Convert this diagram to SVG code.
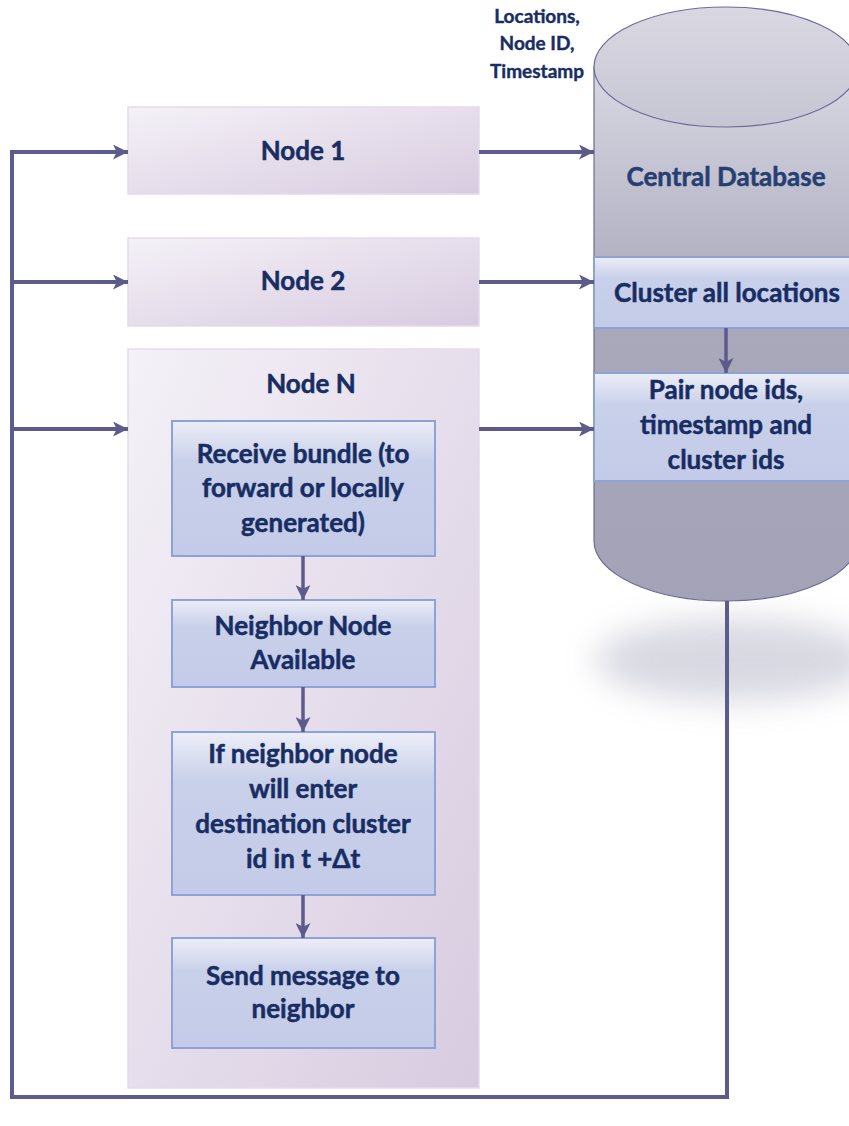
<svg xmlns="http://www.w3.org/2000/svg" width="849" height="1126" viewBox="0 0 849 1126">
  <style>
    .lbl { font-family: Lato, "Open Sans", "Liberation Sans", sans-serif; font-weight: 700; fill: #172d63; stroke: #172d63; stroke-width: 0.5; text-anchor: middle; }
    .big { font-size: 26px; }
    .small { font-size: 19px; stroke-width: 0.4; }
    .node { fill: url(#nodeFill); stroke: #e2dbea; stroke-width: 1.5; }
    .step { fill: url(#stepFill); stroke: #8ba3d9; stroke-width: 2; }
    .wire { fill: none; stroke: #5d5a8c; stroke-width: 4; }
    .arrow { fill: none; stroke: #5d5a8c; stroke-width: 4; marker-end: url(#head); }
    .thin { fill: none; stroke: #5d5a8c; stroke-width: 3.5; marker-end: url(#head); }
  </style>
  <defs>
    <linearGradient id="nodeFill" x1="0" y1="0" x2="1" y2="1">
      <stop offset="0" stop-color="#f4f1f7"/>
      <stop offset="1" stop-color="#d8cbe0"/>
    </linearGradient>
    <linearGradient id="stepFill" x1="0" y1="0" x2="0" y2="1">
      <stop offset="0" stop-color="#eceef7"/>
      <stop offset="0.3" stop-color="#c9d0ea"/>
      <stop offset="1" stop-color="#c4cbe8"/>
    </linearGradient>
    <linearGradient id="bodyFill" gradientUnits="userSpaceOnUse" x1="0" y1="67" x2="0" y2="601">
      <stop offset="0" stop-color="#d8d7e2"/>
      <stop offset="0.45" stop-color="#aaa9bc"/>
      <stop offset="1" stop-color="#a3a2b6"/>
    </linearGradient>
    <linearGradient id="capFill" x1="0" y1="0" x2="0" y2="1">
      <stop offset="0" stop-color="#d9d8e2"/>
      <stop offset="1" stop-color="#c6c5d3"/>
    </linearGradient>
    <filter id="soft" x="-50%" y="-100%" width="200%" height="300%">
      <feGaussianBlur stdDeviation="16"/>
    </filter>
    <marker id="head" viewBox="0 0 10 10" refX="10" refY="5" markerUnits="userSpaceOnUse" markerWidth="17" markerHeight="15" orient="auto">
      <path d="M0,0 L10,5 L0,10 L2.5,5 Z" fill="#5d5a8c"/>
    </marker>
  </defs>

  <rect width="849" height="1126" fill="#ffffff"/>

  <!-- central database cylinder with its soft floor shadow -->
  <g id="central-database">
    <ellipse cx="735" cy="660" rx="140" ry="42" fill="#a4a4bc" opacity="0.42" filter="url(#soft)"/>
    <path d="M594,67 L594,541 A132,60 0 0 0 858,541 L858,67 Z" fill="url(#bodyFill)" stroke="#6c6b9b" stroke-width="1.2"/>
    <ellipse cx="726" cy="67" rx="132" ry="60" fill="url(#capFill)" stroke="#6c6b9b" stroke-width="1.2"/>
    <text class="lbl big" x="726" y="186" style="fill:#263f72;stroke:#263f72">Central Database</text>
  </g>

  <g id="cluster-step">
    <rect class="step" x="594" y="257" width="262" height="71"/>
    <text class="lbl big" x="727" y="302">Cluster all locations</text>
  </g>

  <g id="pair-step">
    <rect class="step" x="594" y="373" width="262" height="108"/>
    <text class="lbl big" x="726" y="399">Pair node ids,</text>
    <text class="lbl big" x="726" y="434">timestamp and</text>
    <text class="lbl big" x="726" y="469">cluster ids</text>
  </g>

  <g id="upload-label">
    <text class="lbl small" x="537" y="23">Locations,</text>
    <text class="lbl small" x="537" y="50">Node ID,</text>
    <text class="lbl small" x="537" y="78">Timestamp</text>
  </g>

  <!-- nodes -->
  <g id="node-1">
    <rect class="node" x="128" y="107" width="351" height="87"/>
    <text class="lbl big" x="303" y="160">Node 1</text>
  </g>

  <g id="node-2">
    <rect class="node" x="128" y="238" width="351" height="88"/>
    <text class="lbl big" x="303" y="290">Node 2</text>
  </g>

  <g id="node-n">
    <rect class="node" x="128" y="349" width="351" height="739"/>
    <text class="lbl big" x="311" y="393">Node N</text>
  </g>

  <g id="receive-bundle">
    <rect class="step" x="172" y="421" width="263" height="135"/>
    <text class="lbl big" x="303" y="463">Receive bundle (to</text>
    <text class="lbl big" x="303" y="497">forward or locally</text>
    <text class="lbl big" x="303" y="532">generated)</text>
  </g>

  <g id="neighbor-available">
    <rect class="step" x="172" y="600" width="263" height="87"/>
    <text class="lbl big" x="303" y="635">Neighbor Node</text>
    <text class="lbl big" x="303" y="669">Available</text>
  </g>

  <g id="neighbor-check">
    <rect class="step" x="172" y="732" width="263" height="163"/>
    <text class="lbl big" x="303" y="763">If neighbor node</text>
    <text class="lbl big" x="303" y="798">will enter</text>
    <text class="lbl big" x="303" y="833">destination cluster</text>
    <text class="lbl big" x="303" y="868">id in t +Δt</text>
  </g>

  <g id="send-message">
    <rect class="step" x="172" y="938" width="263" height="110"/>
    <text class="lbl big" x="303" y="985">Send message to</text>
    <text class="lbl big" x="303" y="1018">neighbor</text>
  </g>

  <!-- connectors -->
  <g id="connectors">
    <path class="wire" d="M727,601 L727,1097 L12,1097 L12,152"/>
    <path class="arrow" d="M10,152 L128,152"/>
    <path class="arrow" d="M12,282 L128,282"/>
    <path class="arrow" d="M12,429 L128,429"/>
    <path class="arrow" d="M479,152 L594,152"/>
    <path class="arrow" d="M479,282 L594,282"/>
    <path class="arrow" d="M479,429 L594,429"/>
    <path class="thin" d="M726,328 L726,373"/>
    <path class="thin" d="M303,556 L303,600"/>
    <path class="thin" d="M303,687 L303,732"/>
    <path class="thin" d="M303,895 L303,938"/>
  </g>
</svg>
